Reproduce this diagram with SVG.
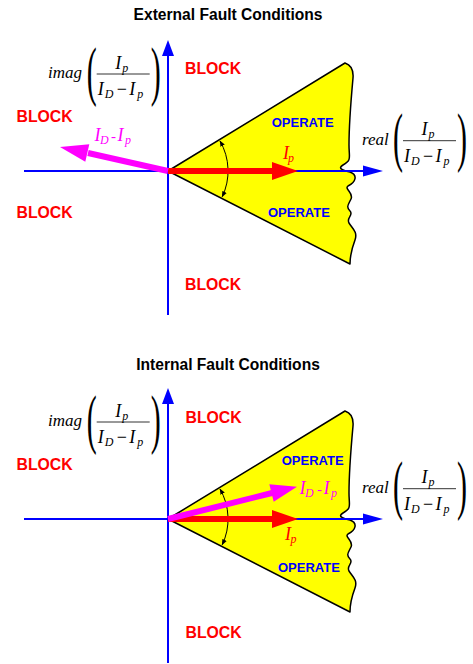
<svg xmlns="http://www.w3.org/2000/svg" width="473" height="664" viewBox="0 0 473 664">
<style>
.title{font-family:"Liberation Sans",Arial,sans-serif;font-weight:bold;font-size:15.6px;fill:#000;text-anchor:middle}
.block{font-family:"Liberation Sans",Arial,sans-serif;font-weight:bold;font-size:15.8px;fill:#ff0000}
.op{font-family:"Liberation Sans",Arial,sans-serif;font-weight:bold;font-size:13px;fill:#0000ff}
.mi{font-family:"Liberation Serif","Times New Roman",serif;font-style:italic;font-size:18px;fill:#000}
.sub{font-family:"Liberation Serif","Times New Roman",serif;font-style:italic;font-size:12px;fill:#000}
.mn{font-family:"Liberation Serif","Times New Roman",serif;font-size:18px;fill:#000}
.hy{font-family:"Liberation Serif","Times New Roman",serif;font-size:15px}
.fn{font-family:"Liberation Serif","Times New Roman",serif;font-style:italic;font-size:17px;fill:#000}
.paren{font-family:"Liberation Serif","Times New Roman",serif;font-size:30px;fill:#000}
.fl{stroke:#333;stroke-width:1}
.wedge{fill:#ffff00;stroke:#000;stroke-width:1.5;stroke-linejoin:round}
.axis{stroke:#0000ff;stroke-width:2;fill:none}
.axh{fill:#0000ff}
.arc{fill:none;stroke:#000;stroke-width:1;marker-start:url(#ah);marker-end:url(#ah)}
.red{stroke:#ff0000;stroke-width:6}
.redh{fill:#ff0000}
.mag{stroke:#ff00ff;stroke-width:6}
.magh{fill:#ff00ff}
.rl{fill:#ff0000}
.ml{fill:#ff00ff}
</style>
<defs>
<marker id="ah" viewBox="0 0 10 10" refX="9" refY="5" markerWidth="6" markerHeight="6" orient="auto-start-reverse" markerUnits="userSpaceOnUse"><path d="M0,1 L10,5 L0,9 z" fill="#000"/></marker>
</defs>

<!-- ============ External ============ -->
<g id="ext">
<text id="ext-title" class="title" x="228" y="20">External Fault Conditions</text>
<g id="ext-wedge">
<path class="wedge" d="M168,171 L345,63 Q354,66 353,78 C351,100 349,130 349,145 C349,158 352,160 343,165 C338,168 341,170 350,172 C358,175 356,182 348,186 C344,189 354,193 351,199 C348,205 346,207 350,211 C354,215 346,218 349,223 C352,228 358,232 355,240 C352,248 350,255 350,264 Z"/>
</g>
<g id="ext-axes">
<line class="axis" x1="168" y1="54" x2="168" y2="315"/>
<polygon class="axh" points="168,40 162,56 174,56"/>
<line class="axis" x1="24" y1="171" x2="366" y2="171"/>
<polygon class="axh" points="383,171 363,165.5 363,176.5"/>
</g>
<g id="ext-connectors">
<path class="arc" d="M220,141 A60,60 0 0 1 222.2,196.8"/>
<line class="red" x1="168" y1="171" x2="273" y2="171"/>
<polygon class="redh" points="298,171 272,162 272,180"/>
<line class="mag" x1="168" y1="171" x2="88" y2="153"/>
<polygon class="magh" points="60,147 89.3,144.2 85.3,161.8"/>
</g>
<g id="ext-labels">
<text class="block" x="185" y="73.5">BLOCK</text>
<text class="block" x="16.5" y="121.7">BLOCK</text>
<text class="block" x="16.5" y="218.3">BLOCK</text>
<text class="block" x="185" y="290">BLOCK</text>
<text class="op" x="271.7" y="127">OPERATE</text>
<text class="op" x="268" y="217">OPERATE</text>
<g id="ext-ip"><text class="mi rl" x="283" y="159">I</text><text class="sub rl" x="288" y="162">p</text></g>
<g id="ext-idip"><text class="mi ml" x="94.5" y="140.5">I</text><text class="sub ml" x="100" y="143.5">D</text><text class="hy ml" x="111" y="140.5">-</text><text class="mi ml" x="117.5" y="140.5">I</text><text class="sub ml" x="125" y="143.5">p</text></g>
<g id="ext-imag">
<text class="fn" x="48" y="78">imag</text>
<g transform="translate(96.7,74)">
<text class="paren" transform="translate(-10,18.6) scale(1,2.15)">(</text>
<line class="fl" x1="0" y1="0" x2="53" y2="0"/>
<text class="mi" x="18.5" y="-5.5">I</text><text class="sub" x="25.5" y="-2.5">p</text>
<text class="mi" x="1" y="21">I</text><text class="sub" x="8" y="24">D</text>
<text class="mn" x="20" y="21">−</text>
<text class="mi" x="32.5" y="21">I</text><text class="sub" x="40.5" y="24">p</text>
<text class="paren" transform="translate(54,18.6) scale(1,2.15)">)</text>
</g>
</g>
<g id="ext-real">
<text class="fn" x="362" y="145">real</text>
<g transform="translate(403,140.7)">
<text class="paren" transform="translate(-10,18.6) scale(1,2.15)">(</text>
<line class="fl" x1="0" y1="0" x2="53" y2="0"/>
<text class="mi" x="18.5" y="-5.5">I</text><text class="sub" x="25.5" y="-2.5">p</text>
<text class="mi" x="1" y="21">I</text><text class="sub" x="8" y="24">D</text>
<text class="mn" x="20" y="21">−</text>
<text class="mi" x="32.5" y="21">I</text><text class="sub" x="40.5" y="24">p</text>
<text class="paren" transform="translate(54,18.6) scale(1,2.15)">)</text>
</g>
</g>
</g>
</g>

<!-- ============ Internal ============ -->
<g id="int">
<text id="int-title" class="title" x="228" y="369.5">Internal Fault Conditions</text>
<g id="int-wedge" transform="translate(0,348)">
<path class="wedge" d="M168,171 L345,63 Q354,66 353,78 C351,100 349,130 349,145 C349,158 352,160 343,165 C338,168 341,170 350,172 C358,175 356,182 348,186 C344,189 354,193 351,199 C348,205 346,207 350,211 C354,215 346,218 349,223 C352,228 358,232 355,240 C352,248 350,255 350,264 Z"/>
</g>
<g id="int-axes">
<line class="axis" x1="168" y1="402" x2="168" y2="663"/>
<polygon class="axh" points="168,388 162,404 174,404"/>
<line class="axis" x1="24" y1="519" x2="366" y2="519"/>
<polygon class="axh" points="383,519 363,513.5 363,524.5"/>
</g>
<g id="int-connectors">
<path class="arc" d="M220,489 A60,60 0 0 1 222.2,544.8"/>
<line class="red" x1="168" y1="519" x2="273" y2="519"/>
<polygon class="redh" points="298,519 272,510 272,528"/>
<line class="mag" x1="168" y1="519" x2="272" y2="493"/>
<polygon class="magh" points="297,486.7 269.3,484.3 273.7,501.7"/>
</g>
<g id="int-labels">
<text class="block" x="185.5" y="423.3">BLOCK</text>
<text class="block" x="16.5" y="470">BLOCK</text>
<text class="block" x="185.5" y="638.3">BLOCK</text>
<text class="op" x="281.7" y="464.5">OPERATE</text>
<text class="op" x="278" y="572">OPERATE</text>
<g id="int-ip"><text class="mi rl" x="285" y="539.5">I</text><text class="sub rl" x="290.5" y="543">p</text></g>
<g id="int-idip"><text class="mi ml" x="299.5" y="493.5">I</text><text class="sub ml" x="305" y="496.5">D</text><text class="hy ml" x="317" y="493.5">-</text><text class="mi ml" x="323.5" y="493.5">I</text><text class="sub ml" x="331" y="496.5">p</text></g>
<g id="int-imag">
<text class="fn" x="48" y="426">imag</text>
<g transform="translate(96.7,422)">
<text class="paren" transform="translate(-10,18.6) scale(1,2.15)">(</text>
<line class="fl" x1="0" y1="0" x2="53" y2="0"/>
<text class="mi" x="18.5" y="-5.5">I</text><text class="sub" x="25.5" y="-2.5">p</text>
<text class="mi" x="1" y="21">I</text><text class="sub" x="8" y="24">D</text>
<text class="mn" x="20" y="21">−</text>
<text class="mi" x="32.5" y="21">I</text><text class="sub" x="40.5" y="24">p</text>
<text class="paren" transform="translate(54,18.6) scale(1,2.15)">)</text>
</g>
</g>
<g id="int-real">
<text class="fn" x="362" y="493">real</text>
<g transform="translate(403,488.7)">
<text class="paren" transform="translate(-10,18.6) scale(1,2.15)">(</text>
<line class="fl" x1="0" y1="0" x2="53" y2="0"/>
<text class="mi" x="18.5" y="-5.5">I</text><text class="sub" x="25.5" y="-2.5">p</text>
<text class="mi" x="1" y="21">I</text><text class="sub" x="8" y="24">D</text>
<text class="mn" x="20" y="21">−</text>
<text class="mi" x="32.5" y="21">I</text><text class="sub" x="40.5" y="24">p</text>
<text class="paren" transform="translate(54,18.6) scale(1,2.15)">)</text>
</g>
</g>
</g>
</g>
</svg>
